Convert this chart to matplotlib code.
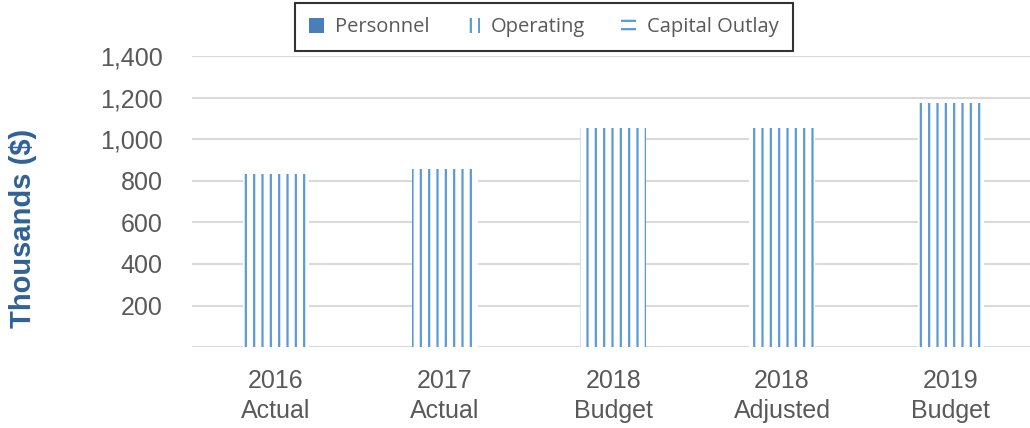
import matplotlib.pyplot as plt
from matplotlib.patches import Patch
from matplotlib.ticker import FuncFormatter

categories = ["2016\nActual", "2017\nActual", "2018\nBudget", "2018\nAdjusted", "2019\nBudget"]
personnel = [0, 0, 0, 0, 0]
operating = [832, 856, 1056, 1056, 1172]
capital_outlay = [0, 0, 0, 0, 0]
y_ticks = [0, 200, 400, 600, 800, 1000, 1200, 1400]

blue_dark = '#4A7EBB'
blue_light = '#5B9BD5'
grey_text = '#595959'

plt.rcParams['font.family'] = ['Liberation Sans', 'DejaVu Sans']
plt.rcParams['hatch.linewidth'] = 1.6

fig = plt.figure(figsize=(10.3, 4.28), dpi=100, facecolor='white')
ax = fig.add_axes([0.186, 0.189, 0.814, 0.680])

x = list(range(len(categories)))
w = 0.39

ax.bar(x, personnel, width=w, color=blue_dark, linewidth=0, zorder=2)
ax.bar(x, operating, width=w, bottom=personnel, facecolor='white',
       edgecolor=blue_light, linewidth=0, hatch='||', zorder=2)
bottom2 = [p + o for p, o in zip(personnel, operating)]
ax.bar(x, capital_outlay, width=w, bottom=bottom2, facecolor='white',
       edgecolor=blue_light, linewidth=0, hatch='==', zorder=2)

ax.set_xlim(-0.5, 4.47)
ax.set_ylim(0, 1400)
ax.set_yticks(y_ticks)
ax.yaxis.set_major_formatter(FuncFormatter(lambda v, p: '' if v == 0 else f'{int(v):,}'))
ax.grid(axis='y', color='#D9D9D9', linewidth=1.5, zorder=0)
ax.set_axisbelow(True)
for s in ax.spines.values():
    s.set_visible(False)
ax.tick_params(axis='y', length=0, pad=21, labelsize=18, labelcolor=grey_text)
ax.tick_params(axis='x', length=0, pad=16, labelsize=18, labelcolor=grey_text)
ax.set_xticks(x)
ax.set_xticklabels(categories, linespacing=1.3)

fig.text(0.022, 0.467, 'Thousands ($)', rotation=90, ha='center', va='center',
         fontsize=21, fontweight='bold', color='#2F6197')

handles = [
    Patch(facecolor=blue_dark, edgecolor='none', label='Personnel'),
    Patch(facecolor='white', edgecolor=blue_light, linewidth=0, hatch='||', label='Operating'),
    Patch(facecolor='white', edgecolor=blue_light, linewidth=0, hatch='--', label='Capital Outlay'),
]
leg = fig.legend(handles=handles, loc='center', bbox_to_anchor=(0.528, 0.936), ncol=3,
                 frameon=True, fancybox=False, edgecolor='black',
                 handlelength=0.75, handleheight=0.75, handletextpad=0.55,
                 columnspacing=1.75, borderpad=0.7, borderaxespad=0,
                 prop={'family': ['Open Sans', 'DejaVu Sans'], 'size': 14.5})
leg.get_frame().set_linewidth(1.5)
for t in leg.get_texts():
    t.set_color(grey_text)

fig.savefig('out.png', dpi=100, facecolor='white')
